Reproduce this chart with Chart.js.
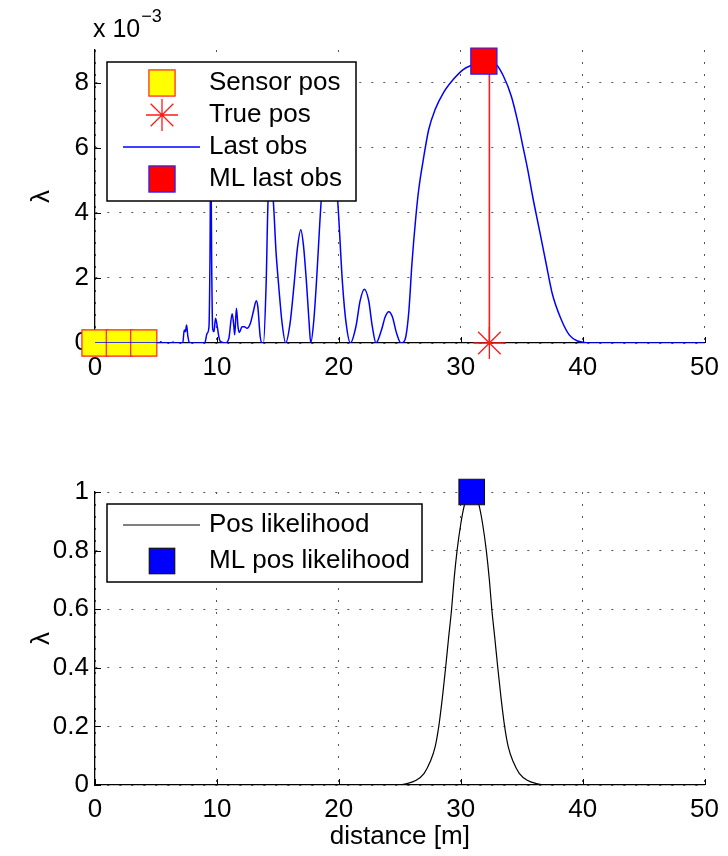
<!DOCTYPE html>
<html lang="en">
<head>
<meta charset="UTF-8">
<title>Last obs and position likelihood</title>
<script src="https://cdn.jsdelivr.net/npm/chart.js"></script>
<style>
  html, body { margin: 0; padding: 0; background: #fff; }
  #wrap { position: relative; width: 728px; height: 856px; }
  #wrap canvas { position: absolute; left: 0; }
  #topChart { top: 0; }
  #bottomChart { top: 420px; }
</style>
</head>
<body>
<div id="wrap">
  <canvas id="topChart" width="728" height="420"></canvas>
  <canvas id="bottomChart" width="728" height="436"></canvas>
</div>

<script>
// ---- data ----
const xTicks = [0, 10, 20, 30, 40, 50];
const yTicksTop = [0, 2, 4, 6, 8];              // units of 10^-3
const yTicksBottom = [0, 0.2, 0.4, 0.6, 0.8, 1];
const yTickLabelsBottom = ["0", "0.2", "0.4", "0.6", "0.8", "1"];

const sensorX = [0, 2, 4];
const sensorY = [0, 0, 0];
const truePosX = [32.35];
const truePosY = [0];
const mlLastX = [31.9];
const mlLastY = [8.66];
const truthLineY = [0, 8.64];

// "Last obs" (lambda, x 10^-3)
const lastObsX = [0, 4.5, 5.3, 5.4, 5.5, 6.3, 6.4, 6.5, 7.2, 7.32, 7.42, 7.51, 7.62, 7.75,
  9.0, 9.2, 9.35, 9.43, 9.5, 9.57, 9.65, 9.76, 9.89, 10.03, 10.16, 10.3, 10.7, 10.98,
  11.25, 11.38, 11.46, 11.6, 11.73, 11.84, 12.06, 12.25, 12.47, 12.74, 13.01, 13.23, 13.36,
  13.55, 13.72, 13.82, 14.04, 14.2, 14.42, 14.62, 14.85, 15.05, 15.35, 15.64,
  16.0, 16.34, 16.6, 16.88, 17.1, 17.35, 17.55, 17.7,
  17.95, 18.16, 18.56, 18.85, 19.2, 19.55, 19.9, 20.3, 20.6, 20.95,
  21.4, 21.75, 22.09, 22.45, 22.75, 23.05, 23.5, 23.8, 24.1, 24.4, 24.7, 25.1,
  25.3, 25.5, 25.75, 26.0, 26.3, 26.55, 26.96, 27.37, 27.9, 28.6, 29.4, 30.2, 31.0, 31.85,
  32.4, 32.9, 33.5, 34.15, 34.7, 35.1, 35.5, 35.9, 36.45, 37.0, 37.5, 38.2, 38.9, 39.6,
  40.25, 41, 50];
const lastObsY = [0, 0, 0, 0.04, 0, 0, 0.03, 0, 0, 0.4, 0.35, 0.55, 0.2, 0,
  0, 0.3, 0.5, 2.5, 6.0, 2.5, 0.45, 0.35, 0.76, 0.5, 0.19, 0.04, 0, 0.14,
  0.9, 0.55, 0.25, 1.07, 0.5, 0.32, 0.5, 0.5, 0.45, 0.6, 1.0, 1.3, 1.1,
  0.2, 0, 0, 1.84, 4.4, 4.9, 4.4, 2.8, 1.84, 0.6, 0,
  0.6, 1.84, 2.9, 3.48, 3.0, 1.84, 0.7, 0,
  0.7, 1.84, 4.4, 5.6, 6.0, 5.6, 4.4, 1.84, 0.6, 0,
  0.5, 1.3, 1.65, 1.3, 0.5, 0, 0.4, 0.8, 0.96, 0.8, 0.35, 0,
  0.02, 0.2, 1.0, 2.45, 3.8, 4.7, 5.7, 6.55, 7.17, 7.7, 8.1, 8.4, 8.55, 8.64,
  8.64, 8.56, 8.2, 7.58, 6.76, 6.04, 5.32, 4.5, 3.48, 2.45, 1.53, 0.76, 0.25, 0.06,
  0.01, 0, 0];

// "Pos likelihood"
const likeX = [0, 24.9, 25.6, 26.3, 27.0, 27.5, 27.9, 28.2, 28.5, 28.76, 29.0, 29.25, 29.45,
  29.7, 30.0, 30.3, 30.6, 30.9, 31.2, 31.5, 31.8, 32.1, 32.35, 32.55, 32.8, 33.04, 33.3,
  33.6, 33.9, 34.3, 34.8, 35.5, 36.2, 36.9, 50];
const likeY = [0, 0, 0.005, 0.015, 0.04, 0.08, 0.13, 0.2, 0.3, 0.4, 0.5, 0.6, 0.7,
  0.8, 0.89, 0.955, 0.99, 1.0, 0.99, 0.955, 0.89, 0.8, 0.7, 0.6, 0.5, 0.4, 0.3,
  0.2, 0.13, 0.08, 0.04, 0.015, 0.005, 0, 0];
const mlLikeX = [30.9];
const mlLikeY = [1.0];

const pts = (xs, ys) => xs.map((x, i) => ({ x: x, y: ys[i] }));

Chart.defaults.font.family = "'Liberation Sans', Arial, Helvetica, sans-serif";
Chart.defaults.font.size = 26;
Chart.defaults.color = "#000";

// square / star markers, same look as the plotted points
function drawMarker(ctx, style, x, y, r, fill, stroke, lw) {
  ctx.save();
  ctx.lineWidth = lw;
  ctx.strokeStyle = stroke;
  ctx.fillStyle = fill;
  if (style === "rect") {
    const h = r * Math.SQRT1_2;
    ctx.fillRect(x - h, y - h, 2 * h, 2 * h);
    ctx.strokeRect(x - h, y - h, 2 * h, 2 * h);
  } else {
    const d = r * Math.SQRT1_2;
    ctx.beginPath();
    ctx.moveTo(x - r, y); ctx.lineTo(x + r, y);
    ctx.moveTo(x, y - r); ctx.lineTo(x, y + r);
    ctx.moveTo(x - d, y - d); ctx.lineTo(x + d, y + d);
    ctx.moveTo(x - d, y + d); ctx.lineTo(x + d, y - d);
    ctx.stroke();
  }
  ctx.restore();
}

// inward tick marks like the original axes
const inTicks = {
  id: "inTicks",
  beforeDatasetsDraw(chart) {
    const ctx = chart.ctx, a = chart.chartArea;
    const xs = chart.scales.x, ys = chart.scales.y;
    ctx.save();
    ctx.strokeStyle = "#000";
    ctx.lineWidth = 1;
    ctx.beginPath();
    xs.ticks.forEach(t => {
      const px = Math.round(xs.getPixelForValue(t.value)) + 0.5;
      ctx.moveTo(px, a.bottom); ctx.lineTo(px, a.bottom - 6);
    });
    ys.ticks.forEach(t => {
      const py = Math.round(ys.getPixelForValue(t.value)) + 0.5;
      ctx.moveTo(a.left, py); ctx.lineTo(a.left + 6, py);
    });
    ctx.stroke();
    ctx.restore();
  }
};

// boxed legend inside the axes (white, on top of the curves)
const boxLegend = {
  id: "boxLegend",
  afterDatasetsDraw(chart, args, opts) {
    const ctx = chart.ctx;
    const [l, t, r, b] = opts.box;
    ctx.save();
    ctx.fillStyle = "#fff";
    ctx.fillRect(l, t, r - l, b - t);
    ctx.strokeStyle = "#000";
    ctx.lineWidth = 1.5;
    ctx.strokeRect(l, t, r - l, b - t);
    ctx.font = "26px 'Liberation Sans', Arial, sans-serif";
    ctx.textBaseline = "middle";
    opts.items.forEach((idx, i) => {
      const ds = chart.data.datasets[idx];
      const y = opts.rowY[i];
      if (ds.showLine) {
        ctx.strokeStyle = ds.borderColor;
        ctx.lineWidth = ds.borderWidth;
        ctx.beginPath();
        ctx.moveTo(opts.lineX[0], y);
        ctx.lineTo(opts.lineX[1], y);
        ctx.stroke();
      } else {
        drawMarker(ctx, ds.pointStyle, opts.markerX, y, ds.pointRadius,
          ds.backgroundColor, ds.borderColor, ds.borderWidth);
      }
      ctx.fillStyle = "#000";
      ctx.fillText(ds.label, opts.textX, y);
    });
    ctx.restore();
  }
};

// "x 10^-3" exponent above the top axes
const expLabel = {
  id: "expLabel",
  afterDraw(chart, args, opts) {
    if (!opts.show) return;
    const ctx = chart.ctx;
    ctx.save();
    ctx.fillStyle = "#000";
    ctx.textBaseline = "alphabetic";
    ctx.font = "25px 'Liberation Sans', Arial, sans-serif";
    ctx.fillText("x 10", 93, 37);
    const w = ctx.measureText("x 10").width;
    ctx.font = "18px 'Liberation Sans', Arial, sans-serif";
    ctx.fillText("\u22123", 93 + w + 1, 22);
    ctx.restore();
  }
};

function axes(yTicks, yMax, yLabels, xHeight, xTitle) {
  return {
    x: {
      type: "linear", min: 0, max: 50,
      afterFit(s) { s.height = xHeight; },
      afterBuildTicks(s) { s.ticks = xTicks.map(v => ({ value: v })); },
      grid: { color: "#555", lineWidth: 1, drawTicks: false },
      border: { color: "#000", width: 1.3, dash: [2, 10] },
      ticks: { padding: 9, maxRotation: 0, autoSkip: false },
      title: { display: !!xTitle, text: xTitle || "", padding: { top: 0, bottom: 4 } }
    },
    y: {
      type: "linear", min: 0, max: yMax,
      afterFit(s) { s.width = 95; },
      afterBuildTicks(s) { s.ticks = yTicks.map(v => ({ value: v })); },
      grid: { color: "#555", lineWidth: 1, drawTicks: false },
      border: { color: "#000", width: 1.3, dash: [2, 10] },
      ticks: {
        padding: 6, autoSkip: false,
        callback: (v) => yLabels ? yLabels[yTicks.indexOf(v)] : String(v)
      },
      title: { display: true, text: "\u03bb", padding: { top: 26, bottom: 0 } }
    }
  };
}

new Chart(document.getElementById("topChart"), {
  type: "scatter",
  data: {
    datasets: [
      { label: "Sensor pos", data: pts(sensorX, sensorY), pointStyle: "rect", pointRadius: 18.5,
        backgroundColor: "#ffff00", borderColor: "#ff2020", borderWidth: 1.2, clip: false, order: 5 },
      { label: "True pos", data: pts(truePosX, truePosY), pointStyle: "star", pointRadius: 16,
        backgroundColor: "#ff0000", borderColor: "#ff1a1a", borderWidth: 1.3, clip: false, order: 2 },
      { label: "Last obs", data: pts(lastObsX, lastObsY), showLine: true, pointRadius: 0,
        borderColor: "#0000ff", borderWidth: 1.5, cubicInterpolationMode: "monotone", order: 4 },
      { label: "ML last obs", data: pts(mlLastX, mlLastY), pointStyle: "rect", pointRadius: 18.5,
        backgroundColor: "#ff0000", borderColor: "#2020ff", borderWidth: 1.2, clip: false, order: 1 },
      { label: "truth", data: pts([truePosX[0], truePosX[0]], truthLineY), showLine: true, pointRadius: 0,
        borderColor: "#ff1a1a", borderWidth: 1.6, order: 3 }
    ]
  },
  options: {
    responsive: false, animation: false, events: [],
    layout: { padding: { top: 50, right: 18, left: 0, bottom: 0 } },
    plugins: {
      legend: { display: false }, tooltip: { enabled: false },
      boxLegend: { box: [107, 62, 356, 201], items: [0, 1, 2, 3], rowY: [83, 115, 147, 179],
        markerX: 162, lineX: [123, 200], textX: 209 },
      expLabel: { show: true }
    },
    scales: axes(yTicksTop, 9, null, 77, null)
  },
  plugins: [inTicks, boxLegend, expLabel]
});

new Chart(document.getElementById("bottomChart"), {
  type: "scatter",
  data: {
    datasets: [
      { label: "Pos likelihood", data: pts(likeX, likeY), showLine: true, pointRadius: 0,
        borderColor: "#000", borderWidth: 1.2, cubicInterpolationMode: "monotone", order: 2 },
      { label: "ML pos likelihood", data: pts(mlLikeX, mlLikeY), pointStyle: "rect", pointRadius: 18,
        backgroundColor: "#0000ff", borderColor: "#111", borderWidth: 1.2, clip: false, order: 1 }
    ]
  },
  options: {
    responsive: false, animation: false, events: [],
    layout: { padding: { top: 72, right: 18, left: 0, bottom: 0 } },
    plugins: {
      legend: { display: false }, tooltip: { enabled: false },
      boxLegend: { box: [107, 84, 422, 162], items: [0, 1], rowY: [105, 141],
        markerX: 162, lineX: [123, 200], textX: 209 },
      expLabel: { show: false }
    },
    scales: axes(yTicksBottom, 1, yTickLabelsBottom, 71, "distance [m]")
  },
  plugins: [inTicks, boxLegend, expLabel]
});
</script>
</body>
</html>
